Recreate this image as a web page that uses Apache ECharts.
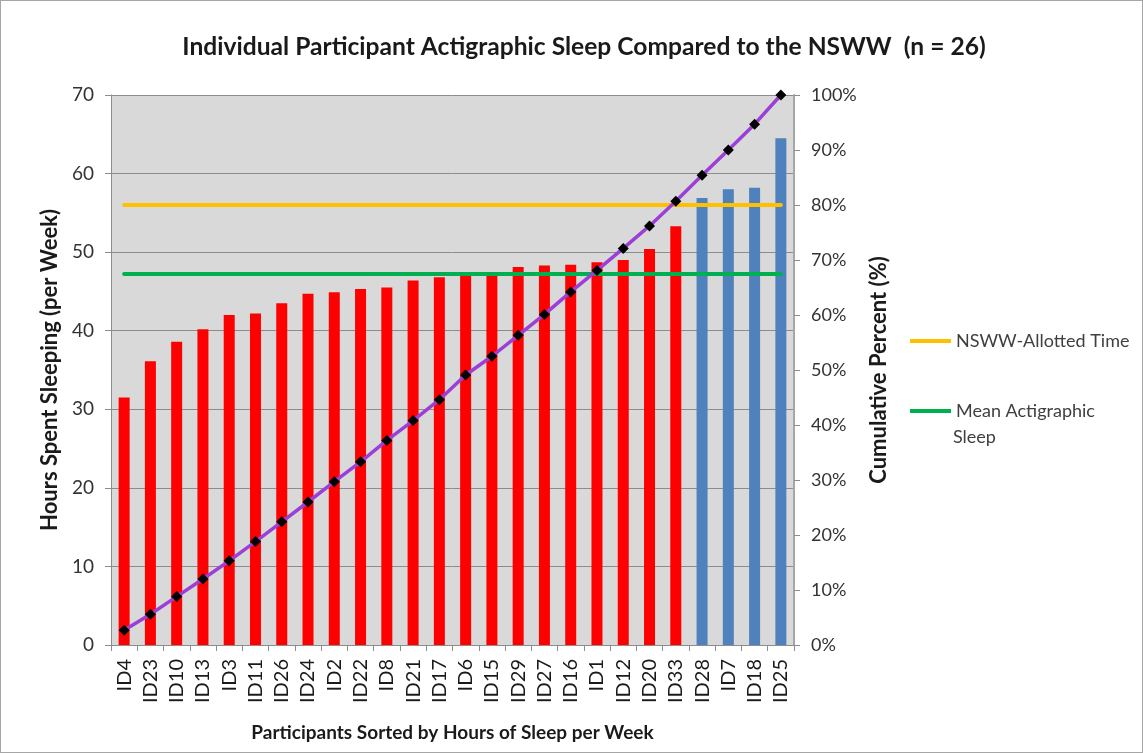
<!DOCTYPE html>
<html>
<head>
<meta charset="utf-8">
<script src="https://cdn.jsdelivr.net/npm/echarts@6/dist/echarts.min.js"></script>
<style>
html,body{margin:0;padding:0;background:#fff;}
#chart{width:1143px;height:753px;box-sizing:border-box;border:1px solid #a6a6a6;}
</style>
</head>
<body>
<div id="chart"></div>
<script>
// ---- data ----
const participants = ['ID4','ID23','ID10','ID13','ID3','ID11','ID26','ID24','ID2','ID22','ID8','ID21','ID17','ID6','ID15','ID29','ID27','ID16','ID1','ID12','ID20','ID33','ID28','ID7','ID18','ID25'];
const hoursPerWeek = [31.5,36.1,38.6,40.2,42.0,42.2,43.5,44.7,44.9,45.3,45.5,46.4,46.8,47.1,47.0,48.1,48.3,48.4,48.7,49.0,50.4,53.3,56.9,58.0,58.2,64.5];
const cumulativePercent = [2.7,5.6,8.8,12.0,15.3,18.8,22.4,26.0,29.7,33.3,37.2,40.8,44.6,49.1,52.5,56.3,60.1,64.2,68.1,72.1,76.2,80.7,85.4,90.0,94.7,100];
const nswwAllotted = 56;
const meanActigraphic = 47.3;
const leftTicks = [0,10,20,30,40,50,60,70];
const rightTicks = [0,10,20,30,40,50,60,70,80,90,100];

const FONT = 'Lato, "Open Sans", sans-serif';
const chart = echarts.init(document.getElementById('chart'));
const first = participants[0], last = participants[participants.length-1];

chart.setOption({
  backgroundColor:'#fff',
  animation:false,
  title:{
    text:'Individual Participant Actigraphic Sleep Compared to the NSWW  (n = 26)',
    left:578, top:29, textAlign:'center',
    textStyle:{fontFamily:FONT,fontSize:24.6,fontWeight:'bold',color:'#1a1a1a'}
  },
  grid:{left:110,right:348,top:94,bottom:107,show:true,backgroundColor:'#d9d9d9',borderWidth:0},
  legend:[
    {data:[{name:'NSWW-Allotted Time',icon:'rect'}],left:904,top:326,itemWidth:41,itemHeight:4,itemGap:6,
     textStyle:{fontFamily:FONT,fontSize:18,color:'#404040'}},
    {data:[{name:'Mean Actigraphic Sleep',icon:'rect'}],left:904,top:396,itemWidth:41,itemHeight:4,itemGap:6,
     formatter:function(){return 'Mean Actigraphic';},
     textStyle:{fontFamily:FONT,fontSize:18,color:'#404040'}}
  ],
  graphic:[{type:'text',left:952,top:427,style:{text:'Sleep',fontFamily:FONT,fontSize:18,fill:'#404040'}}],
  xAxis:{
    type:'category',data:participants,
    name:'Participants Sorted by Hours of Sleep per Week',nameLocation:'middle',nameGap:78,
    nameTextStyle:{fontFamily:FONT,fontSize:19,fontWeight:'bold',color:'#1a1a1a'},
    axisLine:{lineStyle:{color:'#8c8c8c',width:1}},
    axisTick:{show:true,length:6,lineStyle:{color:'#8c8c8c'}},
    axisLabel:{rotate:90,margin:14,fontFamily:FONT,fontSize:20,color:'#1a1a1a',interval:0}
  },
  yAxis:[
    {type:'value',min:0,max:70,interval:10,
     name:'Hours Spent Sleeping (per Week)',nameLocation:'middle',nameGap:44,
     nameTextStyle:{fontFamily:FONT,fontSize:22,fontWeight:'bold',color:'#1a1a1a'},
     axisLine:{show:true,lineStyle:{color:'#8c8c8c'}},
     axisTick:{show:true,length:6,lineStyle:{color:'#8c8c8c'}},
     axisLabel:{margin:17,fontFamily:FONT,fontSize:19,color:'#333',
       formatter:function(v){return leftTicks.indexOf(v)>=0?String(v):'';}},
     splitLine:{show:true,lineStyle:{color:'#8c8c8c',width:1}}},
    {type:'value',min:0,max:100,interval:10,position:'right',
     name:'Cumulative Percent (%)',nameLocation:'middle',nameGap:74,
     nameTextStyle:{fontFamily:FONT,fontSize:22,fontWeight:'bold',color:'#1a1a1a'},
     axisLine:{show:true,lineStyle:{color:'#a6a6a6',width:2}},
     axisTick:{show:true,length:6,lineStyle:{color:'#8c8c8c'}},
     axisLabel:{margin:17,fontFamily:FONT,fontSize:18,color:'#333',
       formatter:function(v){return rightTicks.indexOf(v)>=0?v+'%':'';}},
     splitLine:{show:false}}
  ],
  series:[
    {name:'Hours',type:'bar',data:hoursPerWeek,barWidth:11,
     itemStyle:{color:function(p){return p.value>nswwAllotted?'#4f81bd':'#ff0000';}}},
    {name:'NSWW-Allotted Time',type:'line',data:[],color:'#ffc000',lineStyle:{color:'#ffc000'},
     markLine:{silent:true,symbol:'none',label:{show:false},
       lineStyle:{color:'#ffc000',width:4,type:'solid',cap:'round'},
       data:[[{coord:[first,nswwAllotted]},{coord:[last,nswwAllotted]}]]}},
    {name:'Mean Actigraphic Sleep',type:'line',data:[],color:'#00b050',lineStyle:{color:'#00b050'},
     markLine:{silent:true,symbol:'none',label:{show:false},
       lineStyle:{color:'#00b050',width:4,type:'solid',cap:'round'},
       data:[[{coord:[first,meanActigraphic]},{coord:[last,meanActigraphic]}]]}},
    {name:'Cumulative',type:'line',yAxisIndex:1,data:cumulativePercent,
     lineStyle:{color:'#9b3fd6',width:3.5},symbol:'diamond',symbolSize:11,
     itemStyle:{color:'#000'},z:5}
  ]
});
</script>
</body>
</html>
